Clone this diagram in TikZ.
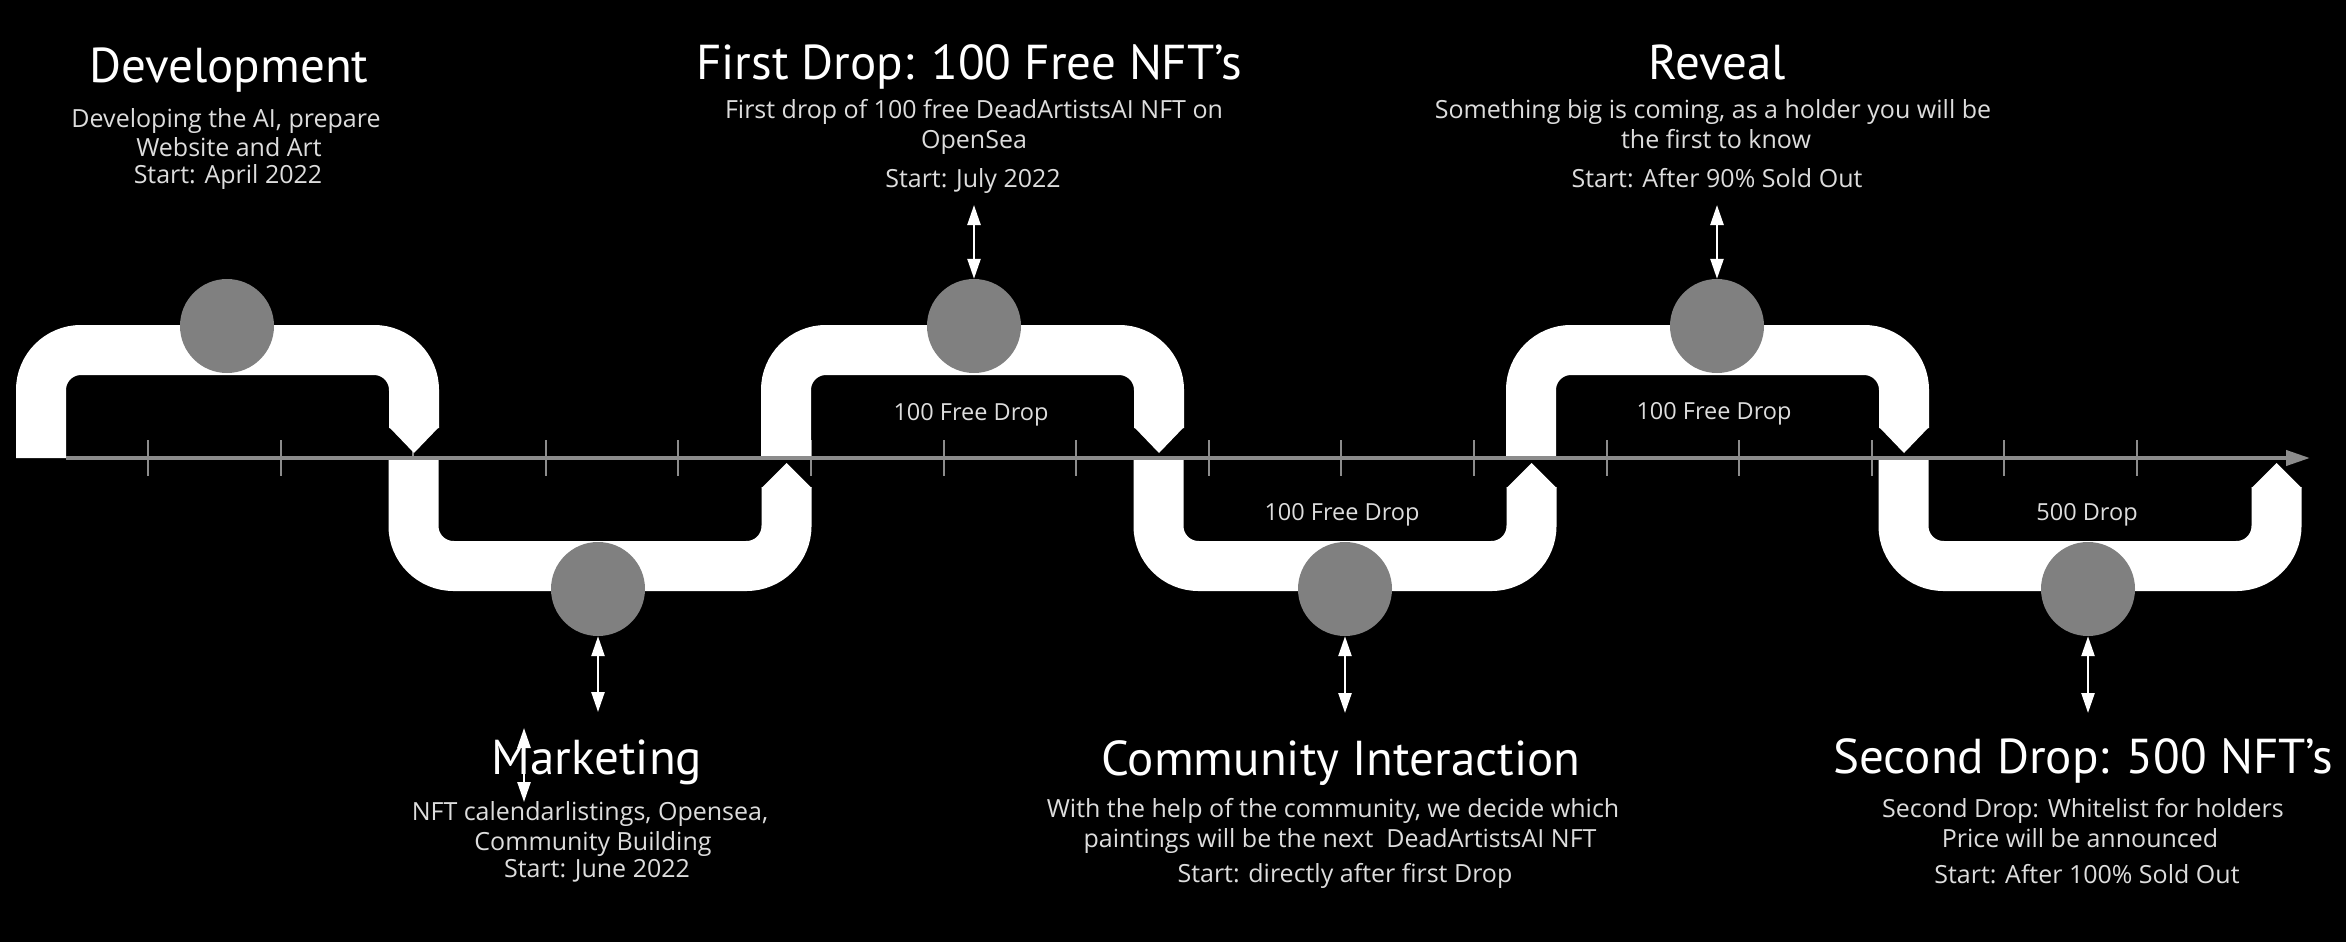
\documentclass[tikz,border=0pt]{standalone}
\usepackage{fontspec}
\setmainfont{PT Sans}
\newfontfamily\descfont{Open Sans}
\usetikzlibrary{arrows.meta}
\definecolor{circgray}{HTML}{808080}
\definecolor{axisgray}{HTML}{8C8C8C}
\definecolor{smalltxt}{HTML}{DDDDDD}
\begin{document}
\begin{tikzpicture}[x=1pt,y=-1pt,
  band/.style={draw=white, line width=50pt, rounded corners=40pt, line cap=butt},
  chev/.style={fill=white},
  dot/.style={circle, fill=circgray, minimum size=94pt, inner sep=0pt},
  title/.style={anchor=base, text=white, font=\fontsize{49}{58}\selectfont, inner sep=0pt},
  desc/.style={anchor=base, text=smalltxt, font=\descfont\fontsize{25}{29}\selectfont, inner sep=0pt},
  lbl/.style={anchor=base, text=smalltxt, font=\descfont\fontsize{23.5}{28}\selectfont, inner sep=0pt},
  dbl/.style={draw=white, line width=2.5pt, {Triangle[width=13pt,length=20pt]}-{Triangle[width=13pt,length=20pt]}},
  tickmark/.style={draw=axisgray, line width=2pt},
  axisline/.style={draw=axisgray, line width=4pt, -{Triangle[width=15pt,length=24pt]}}]
\fill[black] (0,0) rectangle (2346,942);
\useasboundingbox (0,0) rectangle (2346,942);
% ticks
\foreach \t in {0,...,15} {
  \draw[tickmark] ({148+132.6*\t},440) -- ({148+132.6*\t},476);
}
% arches
\foreach \k in {0,...,5} {
  \pgfmathsetmacro{\L}{16+372.5*\k}
  \pgfmathsetmacro{\R}{439+372.5*\k}
  \ifodd\k\relax
    \draw[band] ({\L+25},460) -- ({\L+25},566) -- ({\R-25},566) -- ({\R-25},487);
    \fill[chev] ({\R-50},488) -- (\R,488) -- ({\R-25},463) -- cycle;
  \else
    \draw[band] ({\L+25},458) -- ({\L+25},350) -- ({\R-25},350) -- ({\R-25},428);
    \fill[chev] ({\R-50},427) -- (\R,427) -- ({\R-25},453) -- cycle;
  \fi
}
% axis
\coordinate (axL) at (66,458);
\coordinate (axR) at (2310,458);
\draw[axisline] (axL) -- (axR);
% circles
\node[dot] (c0) at (227,326) {};
\node[dot] (c1) at (598,589) {};
\node[dot] (c2) at (974,326) {};
\node[dot] (c3) at (1345,589) {};
\node[dot] (c4) at (1717,326) {};
\node[dot] (c5) at (2088,589) {};
% arrows
\coordinate (a2) at (974,205);
\coordinate (a4) at (1717,205);
\coordinate (a1) at (598,712);
\coordinate (a3) at (1345,713);
\coordinate (a5) at (2088,713);
\coordinate (m1) at (524,728);
\coordinate (m2) at (524,802);
\draw[dbl] (a2) -- (c2.north);
\draw[dbl] (a4) -- (c4.north);
\draw[dbl] (c1.south) -- (a1);
\draw[dbl] (c3.south) -- (a3);
\draw[dbl] (c5.south) -- (a5);
\draw[dbl] (m1) -- (m2);
% inner labels
\node[lbl] (l2) at (971,420) {100 Free Drop};
\node[lbl] (l3) at (1342,520) {100 Free Drop};
\node[lbl] (l4) at (1714,419) {100 Free Drop};
\node[lbl] (l5) at (2087,520) {500 Drop};
% Development
\node[title] (t0) at (229,83) {Development};
\node[desc] (d0a) at (226,127) {Developing the AI, prepare};
\node[desc] (d0b) at (229,156) {Website and Art};
\node[desc] (d0c) at (228,183) {Start: April 2022};
% First drop
\node[title] (t2) at (969,80) {First Drop: 100 Free NFT’s};
\node[desc] (d2a) at (974,118) {First drop of 100 free DeadArtistsAI NFT on};
\node[desc] (d2b) at (974,148) {OpenSea};
\node[desc] (d2c) at (973,187) {Start: July 2022};
% Reveal
\node[title] (t4) at (1717,80) {Reveal};
\node[desc] (d4a) at (1713,118) {Something big is coming, as a holder you will be};
\node[desc] (d4b) at (1716,148) {the first to know};
\node[desc] (d4c) at (1717,187) {Start: After 90\% Sold Out};
% Marketing
\node[title] (t1) at (597,774) {Marketing};
\node[desc] (d1a) at (590,820) {NFT calendarlistings, Opensea,};
\node[desc] (d1b) at (593,850) {Community Building};
\node[desc] (d1c) at (597,877) {Start: June 2022};
% Community
\node[title] (t3) at (1341,775) {Community Interaction};
\node[desc] (d3a) at (1333,817) {With the help of the community, we decide which};
\node[desc] (d3b) at (1340,847) {paintings will be the next\ \ DeadArtistsAI NFT};
\node[desc] (d3c) at (1345,882) {Start: directly after first Drop};
% Second drop
\node[title] (t5) at (2083,773) {Second Drop: 500 NFT’s};
\node[desc] (d5a) at (2083,817) {Second Drop: Whitelist for holders};
\node[desc] (d5b) at (2080,847) {Price will be announced};
\node[desc] (d5c) at (2087,883) {Start: After 100\% Sold Out};
\end{tikzpicture}
\end{document}
